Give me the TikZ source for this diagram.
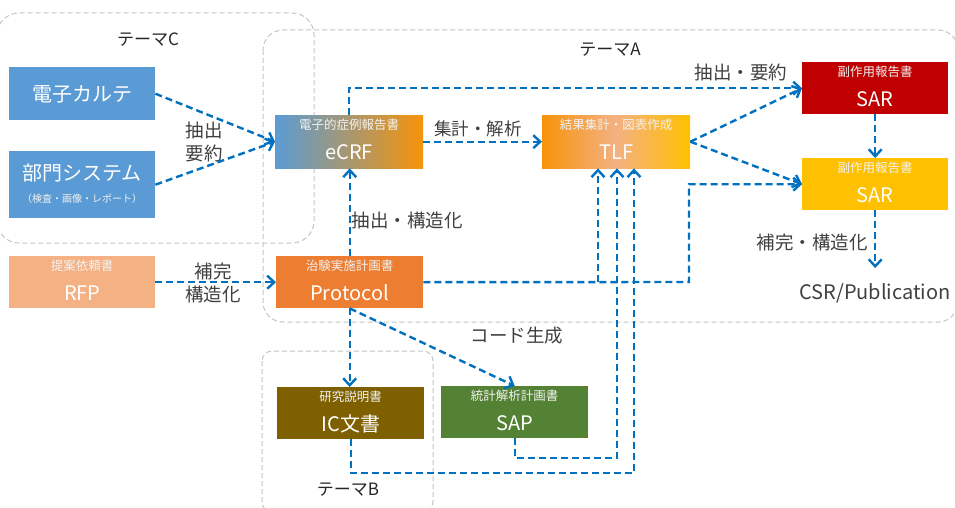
\documentclass[tikz,border=0pt]{standalone}
\usepackage{fontspec}
\setmainfont{Noto Sans CJK JP}
\usetikzlibrary{arrows.meta,calc}
\definecolor{cblue}{HTML}{5B9BD5}
\definecolor{corange}{HTML}{F7930A}
\definecolor{cpeach}{HTML}{F4B183}
\definecolor{cprot}{HTML}{ED7D31}
\definecolor{cred}{HTML}{C00000}
\definecolor{cyellow}{HTML}{FFC000}
\definecolor{cbrown}{HTML}{7F6000}
\definecolor{cgreen}{HTML}{548235}
\definecolor{cline}{HTML}{0070C0}
\definecolor{ctext}{HTML}{404040}
\definecolor{cregion}{HTML}{C4C4C4}
\begin{document}
\begin{tikzpicture}[x=1pt,y=-1pt,
  box/.style={draw=none,rectangle,anchor=north west,inner sep=0pt},
  boxtitle/.style={text=white!95!black,font=\fontsize{12.5}{14}\selectfont,inner sep=0pt},
  boxmain/.style={text=white,font=\fontsize{20}{23}\selectfont,inner sep=0pt},
  conn/.style={draw=cline,line width=2.4pt,dash pattern=on 7pt off 4pt,-{Straight Barb[length=7pt,width=13pt,line width=2.4pt]}},
  lbl/.style={text=ctext,font=\fontsize{18.5}{23}\selectfont,align=center,inner sep=1pt},
  theme/.style={text=black!85,font=\fontsize{17}{20}\selectfont,inner sep=1pt},
  region/.style={draw=cregion,line width=1pt,dash pattern=on 5pt off 3pt}]
\useasboundingbox (0,0) rectangle (955,508);

% regions
\draw[region,rounded corners=22pt] (-3,13) rectangle (314,243);
\draw[region,rounded corners=20pt] (263,30) rectangle (958,322);
\draw[region,rounded corners=10pt] (262,351) rectangle (433,512);
\node[theme] (tC) at (148,40) {テーマC};
\node[theme] (tA) at (610,50) {テーマA};
\node[theme] (tB) at (348,490) {テーマB};

% boxes
\node[box,fill=cblue,minimum width=146pt,minimum height=53pt] (karte) at (9,67) {};
\node[boxmain] (karteM) at ($(karte.center)+(0,1)$) {電子カルテ};

\node[box,fill=cblue,minimum width=146pt,minimum height=67pt] (bumon) at (9,151) {};
\node[boxmain] (bumonM) at ($(bumon.north)+(0,22)$) {部門システム};
\node[boxtitle,font=\fontsize{10}{12}\selectfont] (bumonT) at ($(bumon.north)+(0,48)$) {（検査・画像・レポート）};

\node[box,fill=cpeach,minimum width=146pt,minimum height=52pt] (rfp) at (9,256) {};
\node[boxtitle] (rfpT) at ($(rfp.north)+(0,10)$) {提案依頼書};
\node[boxmain] (rfpM) at ($(rfp.north)+(0,37)$) {RFP};

\node[box,left color=cblue,right color=corange,minimum width=148pt,minimum height=53pt] (ecrf) at (275,115) {};
\node[boxtitle] (ecrfT) at ($(ecrf.north)+(0,10)$) {電子的症例報告書};
\node[boxmain] (ecrfM) at ($(ecrf.north)+(0,37)$) {eCRF};

\node[box,left color=corange,right color=cyellow,middle color=cpeach,minimum width=148pt,minimum height=53pt] (tlf) at (542,115) {};
\node[boxtitle] (tlfT) at ($(tlf.north)+(0,10)$) {結果集計・図表作成};
\node[boxmain] (tlfM) at ($(tlf.north)+(0,37)$) {TLF};

\node[box,fill=cred,minimum width=146pt,minimum height=52pt] (sarR) at (802,62) {};
\node[boxtitle] (sarRT) at ($(sarR.north)+(0,10)$) {副作用報告書};
\node[boxmain] (sarRM) at ($(sarR.north)+(0,37)$) {SAR};

\node[box,fill=cyellow,minimum width=146pt,minimum height=52pt] (sarY) at (802,158) {};
\node[boxtitle] (sarYT) at ($(sarY.north)+(0,10)$) {副作用報告書};
\node[boxmain] (sarYM) at ($(sarY.north)+(0,37)$) {SAR};

\node[box,fill=cprot,minimum width=147pt,minimum height=52pt] (prot) at (276,256) {};
\node[boxtitle] (protT) at ($(prot.north)+(0,10)$) {治験実施計画書};
\node[boxmain] (protM) at ($(prot.north)+(0,37)$) {Protocol};

\node[box,fill=cbrown,minimum width=147pt,minimum height=52pt] (ic) at (277,387) {};
\node[boxtitle] (icT) at ($(ic.north)+(0,10)$) {研究説明書};
\node[boxmain] (icM) at ($(ic.north)+(0,37)$) {IC文書};

\node[box,fill=cgreen,minimum width=147pt,minimum height=52pt] (sap) at (441,386) {};
\node[boxtitle] (sapT) at ($(sap.north)+(0,10)$) {統計解析計画書};
\node[boxmain] (sapM) at ($(sap.north)+(0,37)$) {SAP};

\node[text=ctext,font=\fontsize{20}{23}\selectfont,inner sep=0pt] (csr) at (875,293) {CSR/Publication};

% labels
\node[lbl] (l1) at (204,142) {抽出\\要約};
\node[lbl] (l2) at (213,283) {補完\\構造化};
\node[lbl,font=\fontsize{17.5}{21}\selectfont] (l3) at (478,129) {集計・解析};
\node[lbl] (l4) at (407,220) {抽出・構造化};
\node[lbl] (l5) at (741,72) {抽出・要約};
\node[lbl] (l6) at (812,242) {補完・構造化};
\node[lbl] (l7) at (517,336) {コード生成};

% connectors
\draw[conn] (karte.east) -- (ecrf.west);
\draw[conn] (bumon.east) -- (ecrf.west);
\draw[conn] (rfp.east) -- (prot.west);
\draw[conn] (ecrf.east) -- (tlf.west);
\draw[conn] (ecrf.north) |- (sarR.west);
\draw[conn] (tlf.east) -- (sarR.west);
\draw[conn] (tlf.east) -- (sarY.west);
\draw[conn] (sarR.south) -- (sarY.north);
\draw[conn,shorten >=15pt] (sarY.south) -- (sarY.south |- csr.north);

\coordinate (pj) at (689,282);
\coordinate (t1) at (598,282);
\draw[conn] (prot.east) -- (pj) |- (sarY.west);
\draw[conn] (t1) -- (t1 |- tlf.south);
\draw[conn] (prot.north) -- (prot.north |- ecrf.south);
\draw[conn] (prot.south) -- (prot.south |- ic.north);
\draw[conn] (prot.south) -- (sap.north);

\coordinate (sapc) at (617,458);
\coordinate (icc) at (634,473);
\draw[conn] (sap.south) |- (sapc) -- (sapc |- tlf.south);
\draw[conn] (ic.south) |- (icc) -- (icc |- tlf.south);
\end{tikzpicture}
\end{document}
